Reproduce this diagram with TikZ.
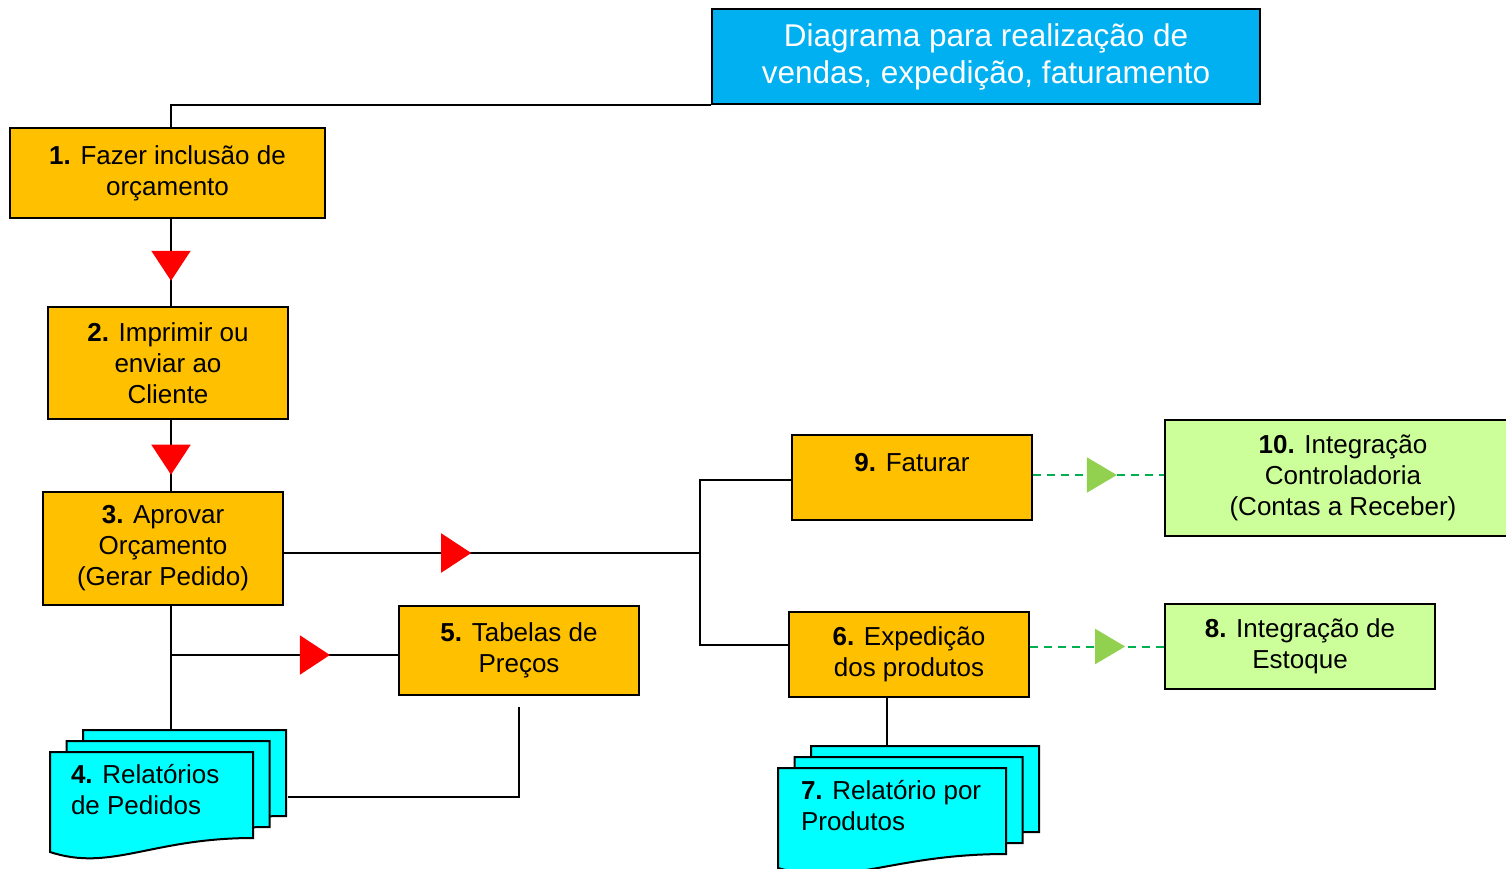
\documentclass[tikz,border=0pt]{standalone}
\usepackage{fontspec}
\setmainfont{Liberation Sans}
\usetikzlibrary{arrows.meta,decorations.markings}
\definecolor{stepOrange}{HTML}{FFC000}
\definecolor{titleBlue}{HTML}{00B0F0}
\definecolor{intGreen}{HTML}{CCFF99}
\definecolor{docCyan}{HTML}{00FFFF}
\definecolor{markGreen}{HTML}{92D050}
\definecolor{dashGreen}{HTML}{00B050}
\begin{document}
\begin{tikzpicture}[x=1pt,y=-1pt,line width=2pt,
  stepbox/.style={draw, fill=stepOrange, align=center, inner sep=0pt,
    font=\fontsize{26}{31}\selectfont},
  intbox/.style={stepbox, fill=intGreen},
  titlebox/.style={draw, fill=titleBlue, text=white, align=center, inner sep=0pt,
    font=\fontsize{31.5}{37}\selectfont, minimum width=548, minimum height=95},
  doctext/.style={align=left, inner sep=0pt, anchor=west,
    font=\fontsize{26}{31}\selectfont},
  docpage/.style={draw=black, fill=docCyan, line width=2pt},
  redmark/.style={postaction={decorate}, decoration={markings,
    mark=at position #1 with {\arrow{Triangle[length=30pt,width=39pt,color=red]}}}},
  greenmark/.style={dashGreen, dash pattern=on 8pt off 6pt, postaction={decorate},
    decoration={markings,
    mark=at position #1 with {\arrow{Triangle[length=30pt,width=35pt,color=markGreen]}}}}
]
    \newcommand{\docPages}[5]{
        \foreach \k in {2,1,0} {
            \pgfmathsetmacro{\px}{#1+16.5*\k}
            \pgfmathsetmacro{\py}{#2-11*\k}
            \filldraw[docpage] (\px,\py) -- ({\px+#3},\py) -- ({\px+#3},{\py+#4-14})
                .. controls ({\px+0.5*#3},{\py+#4-14}) and ({\px+0.3*#3},{\py+#4+20}) .. (\px,{\py+#4}) -- cycle;
        }
        \node[inner sep=0pt, minimum width=#3+33, minimum height=#4+22, anchor=north west] (#5) at (#1,{#2-22}) {};
    }
\useasboundingbox (0,0) rectangle (1506,868);
\clip (0,0) rectangle (1506,868);

\node[titlebox] (title) at (986,56.5) {Diagrama para realização de\\vendas, expedição, faturamento};

\node[stepbox, minimum width=315, minimum height=90] (b1) at (167.5,173) {\textbf{1.} Fazer inclusão de\\orçamento};
\node[stepbox, minimum width=240, minimum height=112] (b2) at (168,363) {\textbf{2.} Imprimir ou\\enviar ao\\Cliente};
\node[stepbox, minimum width=240, minimum height=113] (b3) at (163,548.5) {\textbf{3.} Aprovar\\Orçamento\\(Gerar Pedido)};
\node[stepbox, minimum width=240, minimum height=89] (b5) at (519,650.5) {\textbf{5.} Tabelas de\\Preços};
\node[stepbox, minimum width=240, minimum height=85] (b9) at (912,477.5) {\textbf{9.} Faturar\\\mbox{}};
\node[stepbox, minimum width=240, minimum height=85] (b6) at (909,654.5) {\textbf{6.} Expedição\\dos produtos};
\node[intbox, minimum width=356, minimum height=116] (b10) at (1343,478) {\textbf{10.} Integração\\Controladoria\\(Contas a Receber)};
\node[intbox, minimum width=270, minimum height=85] (b8) at (1300,646.5) {\textbf{8.} Integração de\\Estoque};

\docPages{50}{752}{203}{100}{d4}
\node[doctext] (t4) at (70,790) {\textbf{4.} Relatórios\\de Pedidos};
\docPages{778}{768}{228}{100}{d7}
\node[doctext] (t7) at (800,806) {\textbf{7.} Relatório por\\Produtos};

\coordinate (spine) at (171,0);
\coordinate (fork) at (700,553);
\coordinate (j9) at (700,480);
\coordinate (j6) at (700,645);
\coordinate (j5) at (171,655);
\coordinate (j4) at (519,797);
\coordinate (s7) at (887,0);

\draw (title.south west) -| (spine |- b1.north);
\draw[redmark=0.71] (spine |- b1.south) -- (spine |- b2.north);
\draw[redmark=0.77] (spine |- b2.south) -- (spine |- b3.north);
\draw[redmark=0.45] (b3.east |- fork) -- (fork);
\draw (j9 -| b9.west) -- (j9) -- (j6) -- (j6 -| b6.west);
\draw (spine |- b3.south) -- (spine |- d4.north);
\draw[redmark=0.70] (j5) -- (j5 -| b5.west);
\draw (d4.east |- j4) -- (j4) -- ([yshift=-11pt]b5.south);
\draw (s7 |- b6.south) -- (s7 |- d7.north);
\draw[greenmark=0.64] (b9.east |- 0,475) -- (b10.west |- 0,475);
\draw[greenmark=0.71] (b6.east |- b8.west) -- (b8.west);

\end{tikzpicture}
\end{document}
